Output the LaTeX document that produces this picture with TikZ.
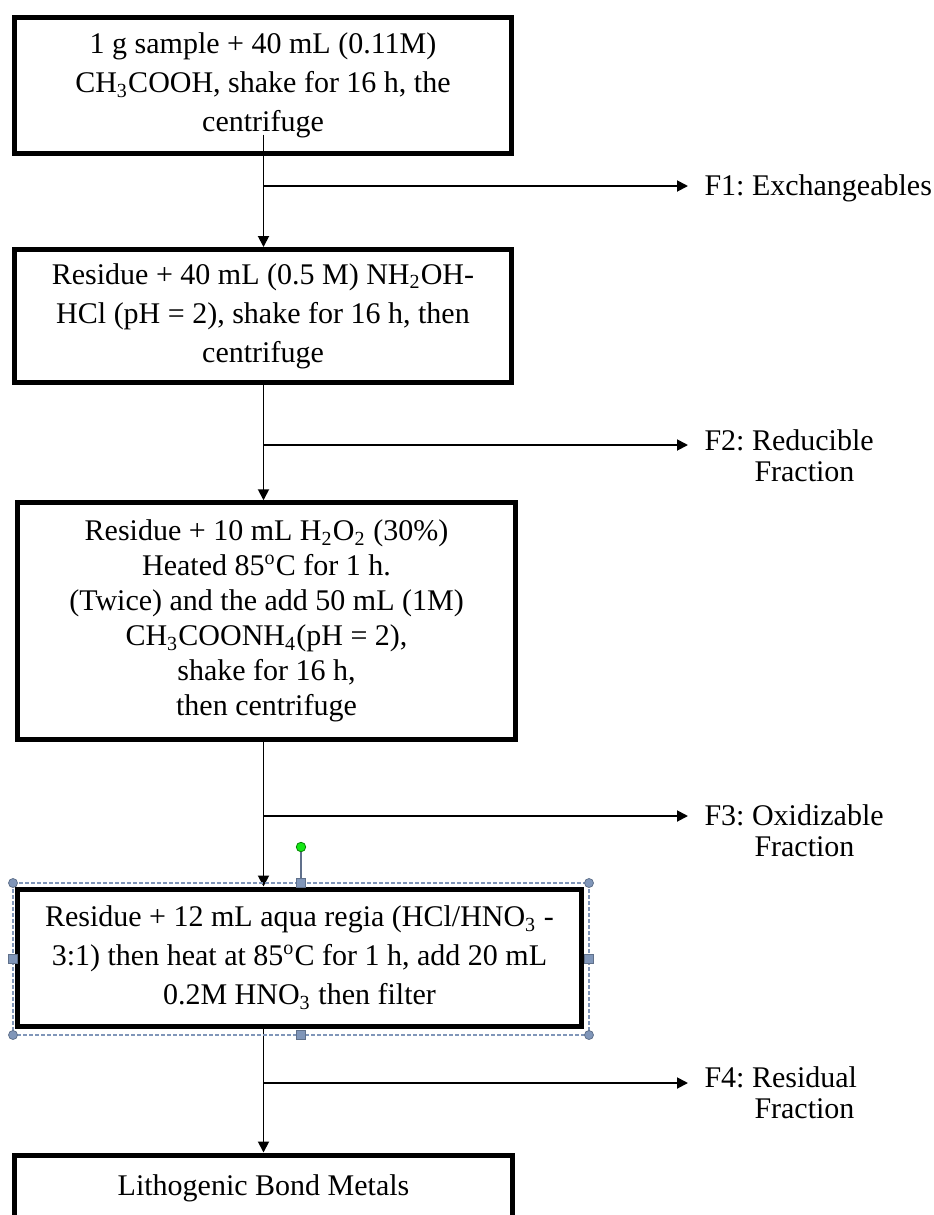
\documentclass[tikz,border=0pt]{standalone}
\usepackage{fontspec}
\setmainfont{Liberation Serif}
\usetikzlibrary{arrows.meta,positioning}
\definecolor{handleblue}{RGB}{128,150,185}
\definecolor{handlegreen}{RGB}{20,230,20}
\frenchspacing

\begin{document}
\begin{tikzpicture}[
      x=0.4pt, y=0.4pt,
      stepbox/.style={draw, line width=2pt, align=center, inner sep=0pt,
                      font=\fontsize{12}{15.6}\selectfont},
      fraclabel/.style={anchor=north west, align=left, inner sep=0pt,
                        font=\fontsize{12}{12.4}\selectfont},
      arrow/.style={-{Triangle[length=4.4pt,width=4.4pt]}, line width=0.75pt},
      handle/.style={draw=handleblue!75!black, fill=handleblue, line width=0.3pt}
    ]
    \useasboundingbox (0,0) rectangle (934,-1215);
    \coordinate (spine) at (263.5,0);
    % extraction steps
    \node[stepbox, minimum width=198.8pt, minimum height=54.4pt] (sample) at (263,-85.5)
      {1 g sample + 40 mL (0.11M)\\CH\textsubscript{3}COOH, shake for 16 h, the\\centrifuge};
    \node[stepbox, minimum width=198.8pt, minimum height=53.2pt] (reduce) at (263,-316)
      {Residue + 40 mL (0.5 M) NH\textsubscript{2}OH-\\HCl (pH = 2), shake for 16 h, then\\centrifuge};
    \node[stepbox, minimum width=198.8pt, minimum height=94.6pt,
          font=\fontsize{12}{14}\selectfont] (oxid) at (266.5,-621)
      {Residue + 10 mL H\textsubscript{2}O\textsubscript{2} (30\%)\\Heated 85\textsuperscript{o}C for 1 h.\\(Twice) and the add 50 mL (1M)\\CH\textsubscript{3}COONH\textsubscript{4}(pH = 2),\\shake for 16 h,\\then centrifuge};
    \node[stepbox, minimum width=225.6pt, minimum height=54.8pt] (aqua) at (299.5,-957.5)
      {Residue + 12 mL aqua regia (HCl/HNO\textsubscript{3} -\\3:1) then heat at 85\textsuperscript{o}C for 1 h, add 20 mL\\0.2M HNO\textsubscript{3} then filter};
    \node[stepbox, minimum width=198.8pt, text height=16pt, text depth=30pt,
          anchor=north] (litho) at (263.5,-1152.5) {Lithogenic Bond Metals};
    % fractions
    \node[fraclabel] (f1) at (704,-174) {F1: Exchangeables};
    \node[fraclabel] (f2) at (704,-429) {F2: Reducible\\\hspace*{20pt}Fraction};
    \node[fraclabel] (f3) at (704,-804) {F3: Oxidizable\\\hspace*{20pt}Fraction};
    \node[fraclabel] (f4) at (704,-1066) {F4: Residual\\\hspace*{20pt}Fraction};
    \coordinate (b1) at (263.5,-186);
    \coordinate (b2) at (263.5,-445);
    \coordinate (b3) at (263.5,-816);
    \coordinate (b4) at (263.5,-1083);
    % connectors
    \draw[arrow] ([yshift=8.6pt]spine |- sample.south) -- (spine |- reduce.north);
    \draw[arrow] (spine |- reduce.south) -- (spine |- oxid.north);
    \draw[arrow] (spine |- oxid.south) -- (spine |- aqua.north);
    \draw[arrow] (spine |- aqua.south) -- (spine |- litho.north);
    \draw[arrow, shorten >=6.4pt] (b1) -- (b1 -| f1.west);
    \draw[arrow, shorten >=6.4pt] (b2) -- (b2 -| f2.west);
    \draw[arrow, shorten >=6.4pt] (b3) -- (b3 -| f3.west);
    \draw[arrow, shorten >=6.4pt] (b4) -- (b4 -| f4.west);
    % selection frame round the last step
    \draw[handleblue, line width=0.5pt, dash pattern=on 1.6pt off 0.8pt]
      (13,-883) rectangle (589,-1035);
    \draw[handleblue!75!black, line width=0.5pt] (301,-847) -- (301,-883);
    \filldraw[draw=green!50!black, fill=handlegreen, line width=0.3pt] (301,-847) circle (1.9pt);
    \foreach \hx/\hy in {13/-883, 589/-883, 13/-1035, 589/-1035}
      \filldraw[handle] (\hx,\hy) circle (1.8pt);
    \foreach \hx/\hy in {301/-883, 301/-1035, 13/-959, 589/-959}
      \filldraw[handle] ([shift={(-1.7pt,-1.7pt)}]\hx,\hy) rectangle ++(3.4pt,3.4pt);
  \end{tikzpicture}
\end{document}
